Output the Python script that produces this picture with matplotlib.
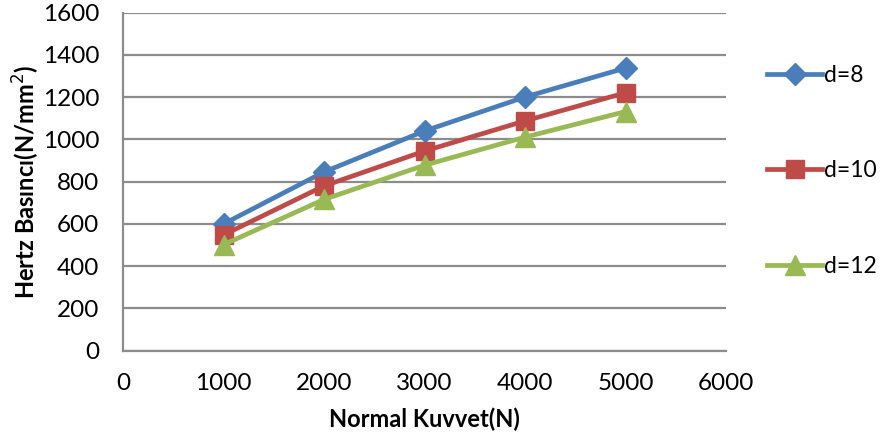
import matplotlib.pyplot as plt

plt.rcParams['font.family'] = ['Lato', 'DejaVu Sans']

kuvvet = [1000, 2000, 3000, 4000, 5000]
d8 = [600, 846, 1040, 1201, 1338]
d10 = [548, 780, 945, 1088, 1221]
d12 = [502, 716, 878, 1011, 1132]
labels = ['d=8', 'd=10', 'd=12']

renkler = ['#4A7EBB', '#BE4B48', '#98B954']
markerlar = ['D', 's', '^']
boyutlar = [11, 13, 14]

fig = plt.figure(figsize=(8.8, 4.46), dpi=100)
ax = fig.add_axes([0.1398, 0.2137, 0.825 - 0.1398, 0.9715 - 0.2137])

for seri, lab, c, m, ms in zip([d8, d10, d12], labels, renkler, markerlar, boyutlar):
    ax.plot(kuvvet, seri, color=c, lw=3.4, marker=m, markersize=ms,
            markeredgecolor=c, label=lab)

ax.set_xlim(0, 6000)
ax.set_ylim(0, 1600)
ax.set_xticks(range(0, 6001, 1000))
ax.set_yticks(range(0, 1601, 200))
ax.yaxis.grid(True, color='#8C8C8C', lw=1.6)
ax.set_axisbelow(True)
for s in ['top', 'right']:
    ax.spines[s].set_visible(False)
for s in ['left', 'bottom']:
    ax.spines[s].set_color('#8C8C8C')
    ax.spines[s].set_linewidth(1.6)
ax.tick_params(length=0, labelsize=17.5)
ax.tick_params(axis='y', pad=17)
ax.tick_params(axis='x', pad=16)

ax.set_xlabel('Normal Kuvvet(N)', fontsize=17, fontweight='bold', labelpad=10)
ax.set_ylabel('Hertz Basıncı(N/mm$^2$)', fontsize=17, fontweight='bold', labelpad=1)

ax.legend(loc='center left', bbox_to_anchor=(1.068, 0.532), frameon=False,
          fontsize=16.5, labelspacing=3.25, handlelength=2.4, handletextpad=0.1,
          borderaxespad=0, borderpad=0)

fig.savefig('out.png', dpi=100)
